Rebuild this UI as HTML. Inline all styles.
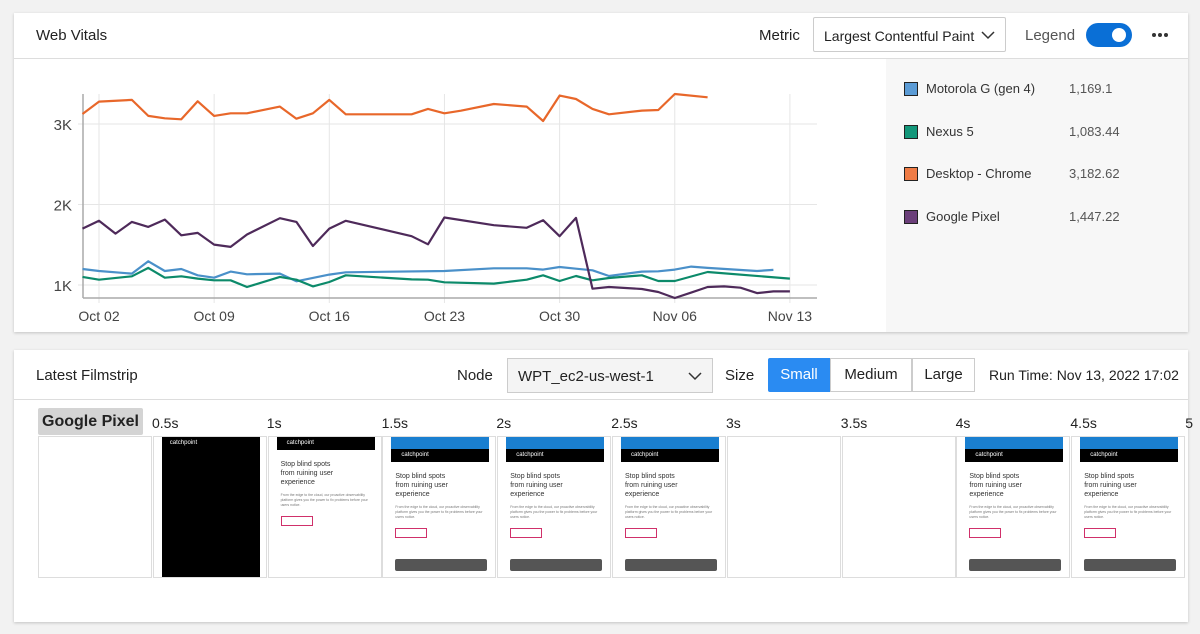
<!DOCTYPE html>
<html><head><meta charset="utf-8">
<style>
body{margin:0;width:1200px;height:634px;background:#f2f2f2;font-family:"Liberation Sans",sans-serif;position:relative;overflow:hidden;color:#222}
.card{position:absolute;background:#fff;box-shadow:0 1px 3px rgba(0,0,0,.2)}
.abs{position:absolute}
.frame{position:absolute;top:436px;height:142px;border:1px solid #ddd;box-sizing:border-box;background:#fff;overflow:hidden}
.shot{position:absolute;top:0;left:8px;width:98px;height:142px;background:#fff;font-size:6px}
.lbl{position:absolute;top:415px;font-size:14px;color:#222}
.dot{position:absolute;width:4px;height:4px;border-radius:2px;background:#333;top:20px}
</style></head><body>
<div class="card" style="left:14px;top:13px;width:1174px;height:319px">
  <div class="abs" style="left:22px;top:14px;font-size:15px">Web Vitals</div>
  <div class="abs" style="left:745px;top:14px;font-size:15px">Metric</div>
  <div class="abs" style="left:799px;top:4px;width:193px;height:35px;border:1px solid #ccc;border-radius:2px;box-sizing:border-box;font-size:14px;padding:10px 0 0 10px">Largest Contentful Paint<svg style="position:absolute;right:10px;top:13px" width="14" height="9"><path d="M1 1 L7 7 L13 1" fill="none" stroke="#333" stroke-width="1.5"/></svg></div>
  <div class="abs" style="left:1011px;top:14px;font-size:15px;color:#555">Legend</div>
  <div class="abs" style="left:1072px;top:10px;width:46px;height:24px;border-radius:12px;background:#0a6fd6"><div style="position:absolute;right:6px;top:5px;width:14px;height:14px;border-radius:7px;background:#fff"></div></div>
  <div class="abs" style="left:1134px;top:0;width:24px;height:44px">
    <div class="dot" style="left:4px"></div><div class="dot" style="left:10px"></div><div class="dot" style="left:16px"></div>
  </div>
  <div class="abs" style="left:0;top:45px;width:1174px;height:1px;background:#ddd"></div>
  <div class="abs" style="left:872px;top:46px;width:302px;height:273px;background:#f7f7f7">
    <div id="legend"></div>
  </div>
</div>
<svg class="abs" id="chart" style="left:0;top:0" width="880" height="334"></svg>

<div class="card" style="left:14px;top:350px;width:1174px;height:272px">
  <div class="abs" style="left:22px;top:17px;font-size:15px">Latest Filmstrip</div>
  <div class="abs" style="left:443px;top:17px;font-size:15px">Node</div>
  <div class="abs" style="left:493px;top:8px;width:206px;height:35px;border:1px solid #ccc;background:#f4f4f4;box-sizing:border-box;font-size:15px;padding:9px 0 0 10px">WPT_ec2-us-west-1<svg style="position:absolute;right:10px;top:13px" width="14" height="9"><path d="M1 1 L7 7 L13 1" fill="none" stroke="#333" stroke-width="1.5"/></svg></div>
  <div class="abs" style="left:711px;top:17px;font-size:15px">Size</div>
  <div class="abs" style="left:754px;top:8px;width:62px;height:34px;background:#2a8bf2;color:#fff;font-size:15px;text-align:center;line-height:34px;border-radius:2px 0 0 2px">Small</div>
  <div class="abs" style="left:816px;top:8px;width:82px;height:34px;border:1px solid #ccc;box-sizing:border-box;font-size:15px;text-align:center;line-height:32px">Medium</div>
  <div class="abs" style="left:898px;top:8px;width:63px;height:34px;border:1px solid #ccc;box-sizing:border-box;font-size:15px;text-align:center;line-height:32px">Large</div>
  <div class="abs" style="left:975px;top:17px;font-size:14px">Run Time: Nov 13, 2022 17:02</div>
  <div class="abs" style="left:0;top:49px;width:1174px;height:1px;background:#ddd"></div>
</div>
<div class="abs" style="left:38px;top:408px;width:105px;height:27px;background:#d4d4d4;font-size:16px;font-weight:bold;line-height:27px;text-align:center;border-radius:2px">Google Pixel</div>
<div id="film"></div>

<script>
const categories=["Oct 02","Oct 09","Oct 16","Oct 23","Oct 30","Nov 06","Nov 13"];
const tickDays=[0,7,14,21,28,35,42];
const yTicks=[1000,2000,3000];
const yTickLabels=["1K","2K","3K"];
const blueDays=[-1,0,2,3,4,5,6,7,8,9,11,12,14,15,21,24,26,27,28,29,30,31,33,34,35,36,37,40,41];
const blueVals=[1199,1174,1141,1295,1174,1199,1120,1091,1166,1133,1141,1046,1129,1158,1174,1207,1207,1191,1224,1203,1183,1112,1166,1170,1191,1228,1212,1174,1187];
const greenDays=[-1,0,2,3,4,5,6,7,8,9,11,12,13,14,15,19,20,21,24,26,27,28,29,30,31,33,34,35,37,42];
const greenVals=[1100,1066,1108,1212,1091,1108,1079,1058,1058,975,1100,1066,983,1037,1120,1070,1066,1033,1017,1066,1120,1050,1112,1058,1087,1120,1050,1050,1162,1079];
const orangeDays=[-1,0,2,3,4,5,6,7,8,9,11,12,13,14,15,19,20,21,22,24,26,27,28,29,30,31,33,34,35,37];
const orangeVals=[3124,3278,3299,3100,3071,3058,3282,3100,3133,3133,3216,3066,3133,3299,3120,3120,3187,3133,3165,3249,3216,3037,3353,3311,3187,3120,3166,3174,3373,3332];
const purpleDays=[-1,0,1,2,3,4,5,6,7,8,9,11,12,13,14,15,19,20,21,24,26,27,28,29,30,31,33,34,35,36,37,38,39,40,41,42];
const purpleVals=[1701,1797,1639,1784,1722,1813,1618,1647,1502,1473,1627,1830,1784,1485,1701,1797,1606,1506,1838,1743,1710,1805,1606,1834,954,975,950,913,838,905,975,983,967,900,921,921];
const seriesNames=["Motorola G (gen 4)","Nexus 5","Desktop - Chrome","Google Pixel"];
const seriesAvg=["1,169.1","1,083.44","3,182.62","1,447.22"];
const seriesColors=["#4a90c9","#0c8a6a","#e8672a","#4e2a5a"];
const legendFill=["#5b9bd5","#13977a","#ef7b45","#6b3f7a"];

const X=d=>99+d*16.45;
const Y=v=>285-(v-1000)*0.0805;
const svg=document.getElementById('chart');
const NS='http://www.w3.org/2000/svg';
function mk(t,a){const e=document.createElementNS(NS,t);for(const k in a)e.setAttribute(k,a[k]);svg.appendChild(e);return e;}
tickDays.forEach((d,i)=>{
  const g=mk('line',{x1:X(d),x2:X(d),y1:94,y2:303,stroke:'#e6e6e6'});
  
  
  const t=mk('text',{x:X(d),y:321,'text-anchor':'middle','font-size':14,fill:'#444','font-family':'Liberation Sans'});
  t.textContent=categories[i];
  
  
});
yTicks.forEach((v,i)=>{
  const g=mk('line',{x1:78,x2:817,y1:Y(v),y2:Y(v),stroke:'#e6e6e6'});
  
  
  const t=mk('text',{x:72,y:Y(v)+6,'text-anchor':'end','font-size':15,fill:'#444','font-family':'Liberation Sans'});
  t.textContent=yTickLabels[i];
  
  
});
const ya=mk('line',{x1:83,x2:83,y1:94,y2:298,stroke:'#aaa','stroke-width':1.5});


const xa=mk('line',{x1:83,x2:817,y1:298,y2:298,stroke:'#aaa','stroke-width':1.5});


const allDays=[blueDays,greenDays,orangeDays,purpleDays];
const allVals=[blueVals,greenVals,orangeVals,purpleVals];
allDays.forEach((ds,s)=>{
  const pts=ds.map((d,i)=>X(d).toFixed(1)+','+Y(allVals[s][i]).toFixed(1)).join(' ');
  const p=mk('polyline',{points:pts,fill:'none',stroke:seriesColors[s],'stroke-width':2.2,'stroke-linejoin':'round'});
  
  
});
const leg=document.getElementById('legend');
seriesNames.forEach((n,i)=>{
  const r=document.createElement('div');
  
  
  r.style.cssText='position:absolute;left:18px;top:'+(22+i*42.5)+'px;font-size:13px;color:#333;width:280px;height:18px';
  r.innerHTML='<span style="position:absolute;left:0;top:1px;width:12px;height:12px;border:1px solid #222;background:'+legendFill[i]+'"></span><span style="position:absolute;left:22px;top:0">'+n+'</span><span style="position:absolute;left:165px;top:0;color:#555">'+seriesAvg[i]+'</span>';
  leg.appendChild(r);
});
// filmstrip
const frameLabels=["0.5s","1s","1.5s","2s","2.5s","3s","3.5s","4s","4.5s","5"];
const frameTypes=["blank","black","page","bar","bar","bar","blank","blank","bar","bar"];
const film=document.getElementById('film');
for(let i=0;i<10;i++){
  const x=38+i*114.8;
  const f=document.createElement('div');
  f.className='frame';
  
  
  f.style.left=x+'px';f.style.width='114px';
  const t=frameTypes[i];
  let h='';
  if(t==='black')h='<div class="shot" style="background:#000;color:#fff;padding:3px 8px;box-sizing:border-box">catchpoint</div>';
  if(t==='page'||t==='bar'){
    h='<div class="shot">'+(t==='bar'?'<div style="height:12px;background:#1a7fd0"></div>':'')+
    '<div style="height:13px;background:#000;color:#fff;font-size:6px;padding:3px 10px;box-sizing:border-box">catchpoint</div>'+
    '<div style="font-size:7px;color:#333;padding:10px 4px 0;line-height:9px">Stop blind spots<br>from ruining user<br>experience</div>'+
    '<div style="font-size:3.5px;color:#777;padding:6px 4px;line-height:5px">From the edge to the cloud, our proactive observability platform gives you the power to fix problems before your users notice.</div>'+
    '<div style="margin:2px 4px;width:30px;height:8px;border:1px solid #d0306a"></div>'+
    (t==='bar'?'<div style="position:absolute;left:4px;top:122px;width:92px;height:12px;background:#555;border-radius:2px"></div>':'')+'</div>';
  }
  f.innerHTML=h;
  film.appendChild(f);
  const l=document.createElement('div');
  l.className='lbl';
  
  
  l.style.left=(x+114)+'px';
  l.textContent=frameLabels[i];
  film.appendChild(l);
}
</script>
</body></html>
